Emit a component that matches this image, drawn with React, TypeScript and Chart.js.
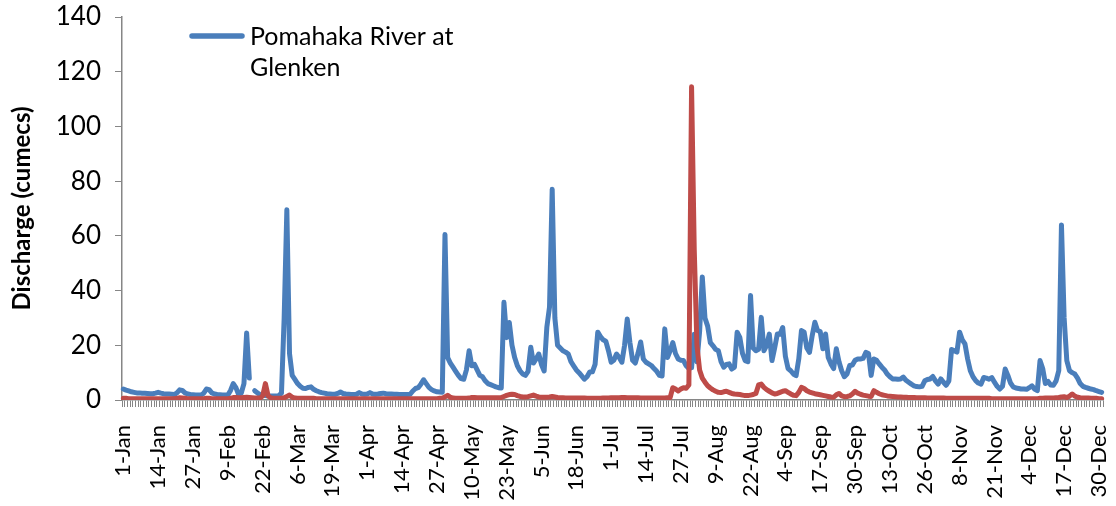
import { useEffect, useRef } from 'react';
import { Chart, registerables } from 'chart.js';

Chart.register(...registerables);

// ---- categories (leap year, one point per day) ----
const MONTHS = ['Jan', 'Feb', 'Mar', 'Apr', 'May', 'Jun', 'Jul', 'Aug', 'Sep', 'Oct', 'Nov', 'Dec'];
const MONTH_DAYS = [31, 29, 31, 30, 31, 30, 31, 31, 30, 31, 30, 31];
const categories: string[] = [];
MONTHS.forEach((m, k) => {
  for (let d = 1; d <= MONTH_DAYS[k]; d++) categories.push(`${d}-${m}`);
});
const LABEL_STEP = 13; // a tick label every 13th day

// ---- Y axis ----
const Y_MIN = 0;
const Y_MAX = 140;
const Y_STEP = 20;

// ---- Series 1: Pomahaka River at Glenken (cumecs), by quarter ----
const blueQ1 = [
  4.0, 3.6, 3.3, 3.0, 2.8, 2.6, 2.6, 2.5, 2.5, 2.4,
  2.3, 2.3, 2.5, 2.8, 2.5, 2.3, 2.2, 2.2, 2.1, 2.0,
  2.6, 3.7, 3.5, 2.6, 2.2, 2.0, 1.9, 1.8, 1.8, 1.8,
  2.5, 4.0, 3.8, 2.6, 2.2, 2.0, 1.9, 1.8, 1.8, 1.8,
  3.5, 6.0, 4.5, 2.0, 2.5, 6.0, 24.5, 8.0, null, 3.4,
  2.6, 2.0, 1.7, 1.6, 1.5, 1.5, 1.5, 1.5, 1.6, 2.5,
  30, 69.5, 17, 9, 7.5, 6, 5, 4.3, 4.2, 4.6,
  4.8, 3.9, 3.4, 3.0, 2.7, 2.5, 2.3, 2.2, 2.1, 2.1,
  2.4, 2.9, 2.4, 2.2, 2.1, 2.0, 2.0, 2.1, 2.7, 2.2,
  2.1,
];
const blueQ2 = [
  2.2, 2.7, 2.2, 2.1, 2.2, 2.4, 2.5, 2.3, 2.2,
  2.2, 2.1, 2.1, 2.0, 2.0, 2.0, 2.0, 2.1, 3.3, 4.2,
  4.5, 5.8, 7.4, 6.0, 4.6, 3.8, 3.3, 3.0, 2.9, 2.8,
  60.5, 15.5, 13.5, 12, 10.5, 9, 7.8, 7.6, 11, 18,
  12.5, 13, 11, 9, 8.5, 7, 6, 5.6, 5.2, 4.8,
  4.5, 4.4, 35.7, 22.8, 28.3, 20, 15.5, 12.5, 10.7, 9.5,
  9, 10.5, 19.3, 13.5, 15, 16.8, 13, 10.6, 26.6, 34,
  77, 30, 20, 19, 18, 17.5, 16.8, 14, 12.5, 11,
  10, 8.8, 7.6, 8.5, 10.2, 10.3, 13, 24.8, 23.2, 22,
  21.5, 18,
];
const blueQ3 = [
  13.8, 14.5, 16.8, 15.5, 13.8, 20, 29.6, 21,
  14.5, 13.5, 17, 21.2, 15, 13.8, 13.2, 12.6, 11.5, 10.5,
  9, 8.8, 26, 15.5, 18, 21, 17, 15, 14.5, 14.4,
  12.5, 11.5, 11.8, 24, 14, 25, 45, 30, 27, 21,
  19.8, 18.5, 18, 14, 12, 13, 13.2, 11.3, 12, 24.8,
  22.9, 17, 14.4, 14, 38.2, 19, 18, 18.5, 30.2, 18,
  20, 24.1, 14.4, 19, 24.1, 24, 26.5, 16, 11.5, 10.7,
  9.5, 8.9, 15, 25.4, 24.8, 19, 17.4, 23.5, 28.4, 25.4,
  25, 18.7, 24.1, 15.5, 13.2, 11.5, 18.7, 14, 10.7, 8.5,
  9.5, 12.6, 12.8, 14.5,
];
const blueQ4 = [
  15, 15, 15.2, 17.4, 17, 9,
  15, 14.5, 13.2, 12, 11, 9.5, 8.5, 7.7, 7.7, 7.6,
  7.7, 8.4, 7.2, 6.5, 5.8, 5.2, 4.9, 4.8, 5, 7,
  7.5, 7.7, 8.6, 7, 5.8, 7.7, 6.5, 5.4, 7, 18.5,
  18, 17.5, 24.8, 22, 20.5, 15, 10.7, 8.5, 7.1, 6.2,
  5.8, 8.2, 8, 7.6, 8.2, 6.5, 5, 4, 5, 11.3,
  9, 6.2, 4.8, 4.4, 4.2, 4, 4, 3.9, 4.5, 5.2,
  4, 3.4, 14.4, 11.5, 6, 6.8, 5.5, 5.4, 7, 10.7,
  64, 30, 14.4, 10.7, 10, 9.5, 8, 6, 5, 4.6,
  4.3, 4, 3.8, 3.4, 3.1, 2.8,
];

// ---- Series 2 (red), by quarter ----
const redQ1 = [
  0.6, 0.6, 0.5, 0.5, 0.5, 0.5, 0.5, 0.5, 0.5, 0.5,
  0.5, 0.5, 0.5, 0.5, 0.5, 0.5, 0.5, 0.5, 0.5, 0.5,
  0.6, 0.8, 0.7, 0.6, 0.5, 0.5, 0.5, 0.5, 0.5, 0.5,
  0.5, 0.6, 0.6, 0.5, 0.5, 0.5, 0.5, 0.5, 0.5, 0.5,
  0.6, 0.9, 0.9, 0.8, 0.8, 0.9, 1.0, 0.9, 0.8, 0.7,
  0.7, 0.7, 1.5, 6.0, 1.5, 0.8, 0.6, 0.6, 0.6, 0.6,
  0.8, 1.3, 1.8, 1.0, 0.7, 0.6, 0.6, 0.6, 0.6, 0.6,
  0.6, 0.6, 0.5, 0.5, 0.5, 0.5, 0.5, 0.5, 0.5, 0.5,
  0.5, 0.5, 0.5, 0.5, 0.5, 0.5, 0.5, 0.5, 0.5, 0.5,
  0.5,
];
const redQ2 = [
  0.5, 0.5, 0.5, 0.5, 0.5, 0.5, 0.5, 0.5, 0.5,
  0.5, 0.5, 0.5, 0.5, 0.5, 0.5, 0.5, 0.5, 0.5, 0.5,
  0.5, 0.5, 0.5, 0.5, 0.5, 0.5, 0.5, 0.5, 0.6, 0.7,
  1.1, 1.7, 1.0, 0.7, 0.6, 0.6, 0.6, 0.6, 0.6, 0.7,
  0.9, 0.9, 0.8, 0.8, 0.8, 0.8, 0.8, 0.8, 0.8, 0.8,
  0.8, 0.9, 1.3, 1.7, 2.0, 2.1, 2.0, 1.6, 1.3, 1.1,
  1.1, 1.2, 1.5, 1.8, 1.4, 1.1, 1.0, 1.0, 1.0, 1.1,
  1.3, 1.1, 0.9, 0.8, 0.8, 0.7, 0.7, 0.7, 0.7, 0.7,
  0.7, 0.7, 0.7, 0.6, 0.6, 0.6, 0.6, 0.6, 0.6, 0.7,
  0.7, 0.7,
];
const redQ3 = [
  0.8, 0.8, 0.8, 0.8, 0.9, 0.9, 0.8, 0.8,
  0.8, 0.8, 0.8, 0.7, 0.7, 0.7, 0.7, 0.7, 0.7, 0.7,
  0.7, 0.7, 0.7, 0.8, 0.9, 4.5, 4.0, 3.3, 4.0, 4.5,
  4.3, 5.5, 114.5, 55, 20, 11, 8, 6.5, 5.2, 4.4,
  3.7, 3.2, 2.8, 2.7, 3.0, 3.2, 2.8, 2.4, 2.2, 2.1,
  2.0, 1.8, 1.6, 1.6, 1.8, 2.0, 2.4, 5.5, 5.8, 4.6,
  3.8, 3.2, 2.6, 2.2, 2.4, 2.8, 3.2, 3.4, 2.8, 2.2,
  1.7, 1.6, 2.8, 4.6, 4.2, 3.4, 2.9, 2.6, 2.3, 2.1,
  1.9, 1.7, 1.5, 1.3, 1.1, 1.0, 1.9, 2.4, 1.5, 1.2,
  1.3, 1.5, 2.2, 3.2,
];
const redQ4 = [
  2.5, 2.1, 1.8, 1.6, 1.4, 1.3,
  3.4, 2.8, 2.3, 1.9, 1.7, 1.5, 1.4, 1.3, 1.2, 1.1,
  1.1, 1.0, 1.0, 0.9, 0.9, 0.9, 0.8, 0.8, 0.8, 0.8,
  0.7, 0.7, 0.7, 0.7, 0.7, 0.7, 0.7, 0.6, 0.6, 0.6,
  0.6, 0.6, 0.6, 0.6, 0.6, 0.6, 0.6, 0.6, 0.6, 0.6,
  0.6, 0.6, 0.6, 0.6, 0.5, 0.5, 0.5, 0.5, 0.5, 0.5,
  0.5, 0.5, 0.5, 0.5, 0.5, 0.5, 0.5, 0.5, 0.5, 0.5,
  0.5, 0.5, 0.6, 0.6, 0.7, 0.7, 0.7, 0.7, 0.8, 0.9,
  1.1, 1.2, 0.9, 1.4, 2.2, 1.4, 1.0, 0.8, 0.7, 0.7,
  0.7, 0.6, 0.6, 0.6, 0.5, 0.5,
];

const pomahaka = [...blueQ1, ...blueQ2, ...blueQ3, ...blueQ4];
const secondSite = [...redQ1, ...redQ2, ...redQ3, ...redQ4];

const LEGEND_LINES = ['Pomahaka River at', 'Glenken'];
const Y_TITLE = 'Discharge (cumecs)';

const BLUE = '#4A7EBB';
const RED = '#BE4B48';
const AXIS = '#868686';
const FONT = 'Lato, "Open Sans", sans-serif';

const insideLegend = {
  id: 'insideLegend',
  afterDraw(chart: any) {
    const ctx = chart.ctx as CanvasRenderingContext2D;
    ctx.save();
    ctx.strokeStyle = BLUE;
    ctx.lineWidth = 5.5;
    ctx.lineCap = 'round';
    ctx.beginPath();
    ctx.moveTo(192, 36);
    ctx.lineTo(242, 36);
    ctx.stroke();
    ctx.fillStyle = '#000';
    ctx.font = `25px ${FONT}`;
    ctx.textBaseline = 'middle';
    ctx.textAlign = 'left';
    LEGEND_LINES.forEach((t, k) => ctx.fillText(t, 250, 37 + k * 31));
    ctx.restore();
  },
};

export default function App() {
  const canvasRef = useRef<HTMLCanvasElement | null>(null);

  useEffect(() => {
    document.body.style.margin = '0';
    const canvas = canvasRef.current;
    if (!canvas) return;
    const chart = new Chart(canvas, {
      type: 'line',
      data: {
        labels: categories,
        datasets: [
          {
            label: LEGEND_LINES.join(' '),
            data: pomahaka,
            borderColor: BLUE,
            backgroundColor: BLUE,
            borderWidth: 5,
            pointRadius: 0,
            pointHoverRadius: 0,
            tension: 0,
            spanGaps: false,
            borderJoinStyle: 'round',
            borderCapStyle: 'round',
            order: 2,
          },
          {
            label: 'Series 2',
            data: secondSite,
            borderColor: RED,
            backgroundColor: RED,
            borderWidth: 5,
            pointRadius: 0,
            pointHoverRadius: 0,
            tension: 0,
            borderJoinStyle: 'round',
            borderCapStyle: 'round',
            order: 1,
          },
        ],
      },
      options: {
        animation: false,
        responsive: true,
        maintainAspectRatio: false,
        layout: { padding: { left: 0, right: 13, top: 17, bottom: 0 } },
        plugins: {
          legend: { display: false },
          tooltip: { enabled: false },
        },
        scales: {
          x: {
            type: 'category',
            offset: true,
            afterFit: (s: any) => {
              s.height = 106;
              s.paddingLeft = 0;
              s.paddingRight = 0;
            },
            grid: {
              display: true,
              offset: true,
              drawOnChartArea: false,
              drawTicks: true,
              tickLength: 7,
              color: AXIS,
              lineWidth: 1,
            },
            border: { display: true, color: AXIS, width: 1.5 },
            ticks: {
              autoSkip: false,
              minRotation: 90,
              maxRotation: 90,
              padding: 18,
              color: '#000',
              font: { family: FONT, size: 22 },
              callback: (_v: any, i: number) => (i % LABEL_STEP === 0 ? categories[i] : ''),
            },
          },
          y: {
            min: Y_MIN,
            max: Y_MAX,
            afterFit: (s: any) => {
              s.width = 122;
              s.paddingTop = 0;
              s.paddingBottom = 0;
            },
            grid: {
              display: true,
              drawOnChartArea: false,
              drawTicks: true,
              tickLength: 7,
              color: AXIS,
            },
            border: { display: true, color: AXIS, width: 1.5 },
            ticks: {
              stepSize: Y_STEP,
              padding: 14,
              color: '#000',
              font: { family: FONT, size: 26 },
            },
            title: {
              display: true,
              text: Y_TITLE,
              color: '#000',
              font: { family: FONT, size: 24, weight: 'bold' },
              padding: { top: 8, bottom: 0 },
            },
          },
        },
      },
      plugins: [insideLegend],
    });
    return () => chart.destroy();
  }, []);

  return (
    <div style={{ width: 1116, height: 506, position: 'relative' }}>
      <canvas ref={canvasRef} />
    </div>
  );
}
